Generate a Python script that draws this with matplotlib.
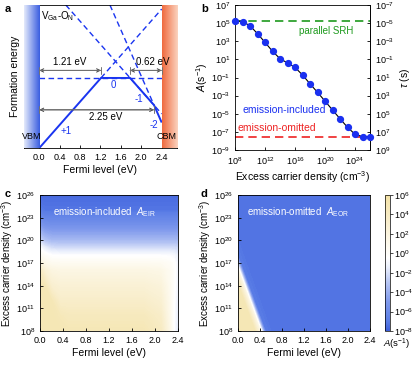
import numpy as np
import matplotlib
matplotlib.use("Agg")
import matplotlib.pyplot as plt
from matplotlib.colors import LinearSegmentedColormap, Normalize
from matplotlib.cm import ScalarMappable

plt.rcParams['font.family'] = ['Liberation Sans', 'DejaVu Sans']
plt.rcParams['mathtext.fontset'] = 'custom'
plt.rcParams['mathtext.rm'] = 'Liberation Sans'
plt.rcParams['mathtext.it'] = 'Liberation Sans:italic'
plt.rcParams['font.size'] = 6.5
plt.rcParams['axes.linewidth'] = 0.6
plt.rcParams['xtick.direction'] = 'in'
plt.rcParams['ytick.direction'] = 'in'
plt.rcParams['xtick.major.size'] = 2.5
plt.rcParams['ytick.major.size'] = 2.5
plt.rcParams['xtick.major.width'] = 0.6
plt.rcParams['ytick.major.width'] = 0.6

# ---- panel a: formation energy of V_Ga-O_N ----
fermi_ticks = [0.0, 0.4, 0.8, 1.2, 1.6, 2.0, 2.4]
kink_fermi = [0.0, 1.21, 1.78, 2.25, 2.4]
kink_energy = [0.0, 1.21, 1.21, 0.74, 0.44]
dash_p1_x, dash_p1_y = [1.21, 2.4], [1.21, 2.4]
dash_0_x, dash_0_y = [0.0, 2.4], [1.21, 1.21]
dash_m1_x, dash_m1_y = [0.52, 2.4], [2.47, 0.59]
dash_m2_x, dash_m2_y = [1.385, 2.25], [2.47, 0.74]
charge_labels = ['+1', '0', '-1', '-2']
charge_pos = [(0.52, 0.30), (1.46, 1.08), (1.95, 0.84), (2.24, 0.40)]

# ---- panel b: capture coefficient vs excess carrier density ----
density = [1e8, 1e9, 1e10, 1e11, 1e12, 1e13, 1e14, 1e15, 1e16, 1e17,
           1e18, 1e19, 1e20, 1e21, 1e22, 1e23, 1e24, 1e25, 1e26]
A_included = [1.9e5, 1.45e5, 5.2e4, 6.8e3, 7.6e2, 78, 12, 4.0, 1.3, 0.19,
              0.020, 2.3e-3, 2.5e-4, 2.6e-5, 2.8e-6, 3.2e-7, 5.4e-8, 3.0e-8, 3.0e-8]
A_srh = 1.9e5
A_omitted = 3.0e-8

# ---- panels c, d: log10 A maps (Fermi level x log10 density) ----
c_fermi = [0.0, 0.08, 0.2, 0.35, 0.5, 0.7, 1.2, 1.8, 2.1, 2.25, 2.33, 2.4]
c_logn = [8, 10, 12, 14, 16, 17, 18, 19, 20, 22, 24, 26]
c_logA = [
    [5.0, 5.0, 5.0, 5.0, 4.8, 4.8, 4.8, 4.8, 4.0, 1.5, -0.5, -1.8],
    [5.0, 5.0, 5.0, 4.6, 4.3, 4.3, 4.3, 4.3, 3.5, 1.2, -0.5, -1.6],
    [5.0, 5.0, 4.8, 3.4, 3.4, 3.4, 3.4, 3.4, 2.8, 1.0, -0.4, -1.5],
    [5.0, 4.8, 3.0, 2.6, 2.6, 2.6, 2.6, 2.6, 2.2, 0.8, -0.3, -1.3],
    [4.0, 2.6, 1.8, 1.6, 1.6, 1.6, 1.6, 1.6, 1.4, 0.6, -0.2, -1.2],
    [2.0, 1.2, 0.7, 0.6, 0.6, 0.6, 0.6, 0.6, 0.5, 0.2, -0.3, -1.2],
    [0.6, 0.0, -0.5, -0.6, -0.6, -0.6, -0.6, -0.6, -0.6, -0.7, -0.9, -1.5],
    [-0.6, -1.4, -2.1, -2.2, -2.2, -2.2, -2.2, -2.2, -2.2, -2.2, -2.2, -2.4],
    [-2.4, -3.2, -3.6, -3.6, -3.6, -3.6, -3.6, -3.6, -3.6, -3.6, -3.6, -3.7],
    [-5.0, -5.5, -5.6, -5.6, -5.6, -5.6, -5.6, -5.6, -5.6, -5.6, -5.6, -5.6],
    [-7.0, -7.2, -7.2, -7.2, -7.2, -7.2, -7.2, -7.2, -7.2, -7.2, -7.2, -7.2],
    [-7.6, -7.6, -7.6, -7.6, -7.6, -7.6, -7.6, -7.6, -7.6, -7.6, -7.6, -7.6],
]
d_fermi = [0.0, 0.1, 0.2, 0.3, 0.4, 0.5, 0.6, 2.4]
d_logn = [8, 10, 12, 14, 16, 18, 20, 26]
d_logA = [
    [5.0, 5.0, 5.0, 5.0, 1.5, -7.0, -7.2, -7.2],
    [5.0, 5.0, 5.0, 1.5, -7.0, -7.2, -7.2, -7.2],
    [5.0, 5.0, 1.5, -7.0, -7.2, -7.2, -7.2, -7.2],
    [5.0, 1.5, -7.0, -7.2, -7.2, -7.2, -7.2, -7.2],
    [1.5, -7.0, -7.2, -7.2, -7.2, -7.2, -7.2, -7.2],
    [-7.0, -7.2, -7.2, -7.2, -7.2, -7.2, -7.2, -7.2],
    [-7.2, -7.2, -7.2, -7.2, -7.2, -7.2, -7.2, -7.2],
    [-7.2, -7.2, -7.2, -7.2, -7.2, -7.2, -7.2, -7.2],
]
density_ticks = [8, 11, 14, 17, 20, 23, 26]
cbar_ticks = [-8, -6, -4, -2, 0, 2, 4, 6]

blue = '#1a35f0'
cmap = LinearSegmentedColormap.from_list('eir', [
    (0.0, '#3d5fdb'), (1/14, '#5a7de6'), (3/14, '#7f99ec'), (5/14, '#b7c6f4'),
    (6.5/14, '#e8edfb'), (7.5/14, '#ffffff'), (9/14, '#fdf9ec'),
    (11/14, '#f9efd0'), (1.0, '#f3e2a6')])

fig = plt.figure(figsize=(4.15, 3.68), dpi=100)

# ---------------- a ----------------
ax = fig.add_axes([0.0578, 0.5978, 0.3687, 0.3886])
grad = np.linspace(0, 1, 64).reshape(1, -1)
vbm_cmap = LinearSegmentedColormap.from_list('vbm', ['#e4eafb', '#3a5ee0'])
cbm_cmap = LinearSegmentedColormap.from_list('cbm', ['#ef6a3e', '#fbd3bf'])
ax.imshow(grad, extent=[-0.3, 0.0, 0, 2.47], aspect='auto', cmap=vbm_cmap, zorder=3)
ax.imshow(grad, extent=[2.4, 2.7, 0, 2.47], aspect='auto', cmap=cbm_cmap, zorder=3)
for xs, ys in [(dash_p1_x, dash_p1_y), (dash_0_x, dash_0_y),
               (dash_m1_x, dash_m1_y), (dash_m2_x, dash_m2_y)]:
    ax.plot(xs, ys, color=blue, lw=1.0, ls=(0, (4, 2.5)))
ax.plot(kink_fermi, kink_energy, color=blue, lw=1.4, solid_capstyle='butt')
for lab, (x, y) in zip(charge_labels, charge_pos):
    ax.text(x, y, lab, color=blue, fontsize=7, ha='center', va='center')

arr = dict(arrowstyle='<->', color='0.25', lw=0.7, shrinkA=0, shrinkB=0,
           mutation_scale=6)
bar = dict(arrowstyle='|-|', color='0.45', lw=0.7, shrinkA=0, shrinkB=0,
           mutation_scale=2.5)
ax.annotate('', xy=(1.21, 1.34), xytext=(0.0, 1.34), arrowprops=arr)
ax.annotate('', xy=(1.21, 1.34), xytext=(0.0, 1.34), arrowprops=bar)
ax.annotate('', xy=(2.4, 1.34), xytext=(1.78, 1.34), arrowprops=arr)
ax.annotate('', xy=(2.4, 1.34), xytext=(1.78, 1.34), arrowprops=bar)
ax.annotate('', xy=(2.25, 0.66), xytext=(0.0, 0.66), arrowprops=arr)
ax.annotate('', xy=(2.25, 0.66), xytext=(0.0, 0.66), arrowprops=bar)
ax.text(0.60, 1.49, '1.21 eV', fontsize=7, ha='center', va='center')
ax.text(2.22, 1.49, '0.62 eV', fontsize=7, ha='center', va='center', zorder=5)
ax.text(1.30, 0.53, '2.25 eV', fontsize=7, ha='center', va='center')
ax.text(-0.15, 0.2, 'VBM', fontsize=6.5, ha='center', va='center', zorder=5)
ax.text(2.50, 0.2, 'CBM', fontsize=6.5, ha='center', va='center', zorder=5)
ax.text(0.35, 2.28, 'V$_{\\rm Ga}$-O$_{\\rm N}$', fontsize=7, ha='center', va='center')
ax.set_xlim(-0.3, 2.7)
ax.set_ylim(0, 2.47)
ax.set_xticks(fermi_ticks)
ax.set_xticklabels([f'{v:.1f}' for v in fermi_ticks])
ax.set_yticks([])
ax.set_xlabel('Fermi level (eV)', fontsize=7.5, labelpad=2)
ax.set_ylabel('Formation energy', fontsize=7.5, labelpad=3)

# ---------------- b ----------------
bx = fig.add_axes([0.5663, 0.5924, 0.3253, 0.3940])
bx.axhline(A_srh, color='#1e9a1e', lw=1.2, ls=(0, (5, 3)))
bx.axhline(A_omitted, color='#ee2222', lw=1.2, ls=(0, (5, 3)))
bx.plot(density, A_included, color='black', lw=0.8, marker='o', ms=4.2,
        mfc='#1a30f0', mec='#1a30f0', clip_on=False, zorder=4)
bx.set_xscale('log')
bx.set_yscale('log')
bx.set_xlim(1e8, 1e26)
bx.set_ylim(1e-9, 1e7)
bx.set_xticks([1e8, 1e12, 1e16, 1e20, 1e24])
bx.set_yticks([10.0 ** k for k in range(-9, 8, 2)])
bx.minorticks_off()
bx.text(3e16, 1.2e4, 'parallel SRH', color='#1e9a1e', fontsize=7, va='center')
bx.text(1e9, 2.6e-5, 'emission-included', color='#1a30f0', fontsize=7.5, va='center')
bx.text(2e8, 2.5e-7, 'emission-omitted', color='#ee2222', fontsize=7.5, va='center')
bx.set_xlabel('Excess carrier density (cm$^{-3}$)', fontsize=7.5, labelpad=2)
bx.set_ylabel('$A$(s$^{-1}$)', fontsize=7.5, labelpad=1)
sec = bx.secondary_yaxis('right', functions=(lambda a: 1 / a, lambda t: 1 / t))
sec.set_yticks([10.0 ** k for k in range(-7, 10, 2)])
sec.minorticks_off()
sec.set_ylabel('$\\tau$ (s)', fontsize=7.5, labelpad=3)

# ---------------- c, d ----------------
levels = np.linspace(-8, 6, 141)


def density_axes(axh):
    axh.set_xlim(0, 2.4)
    axh.set_ylim(8, 26)
    axh.set_xticks(fermi_ticks)
    axh.set_xticklabels([f'{v:.1f}' for v in fermi_ticks])
    axh.set_yticks(density_ticks)
    axh.set_yticklabels([f'$10^{{{k}}}$' for k in density_ticks])
    axh.set_xlabel('Fermi level (eV)', fontsize=7.5, labelpad=2)
    axh.set_ylabel('Excess carrier density (cm$^{-3}$)', fontsize=7, labelpad=1)
    axh.tick_params(top=False, right=False)


cx = fig.add_axes([0.0964, 0.1005, 0.3325, 0.3696])
cx.contourf(c_fermi, c_logn, np.array(c_logA), levels=levels, cmap=cmap,
            extend='both', antialiased=False)
density_axes(cx)
cx.text(0.22, 23.8, 'emission-included  $A_{\\rm EIR}$', color='white',
        fontsize=7, va='center')

dx = fig.add_axes([0.5735, 0.1005, 0.3181, 0.3696])
dx.contourf(d_fermi, d_logn, np.array(d_logA), levels=levels, cmap=cmap,
            extend='both', antialiased=False)
density_axes(dx)
dx.text(0.16, 23.8, 'emission-omitted  $A_{\\rm EOR}$', color='white',
        fontsize=7, va='center')

cax = fig.add_axes([0.9277, 0.1005, 0.012, 0.3696])
cb = fig.colorbar(ScalarMappable(norm=Normalize(-8, 6), cmap=cmap), cax=cax)
cb.set_ticks(cbar_ticks)
cb.set_ticklabels([f'$10^{{{k}}}$' for k in cbar_ticks])
cb.outline.set_linewidth(0.5)
cax.tick_params(direction='out', length=2, width=0.5, labelsize=6.5, pad=1)
cax.text(-0.4, -0.045, '$A$(s$^{-1}$)', transform=cax.transAxes, fontsize=6.8,
         ha='left', va='top')

for lab, x, y in [('a', 0.012, 0.99), ('b', 0.484, 0.99),
                  ('c', 0.012, 0.487), ('d', 0.484, 0.487)]:
    fig.text(x, y, lab, fontsize=8, fontweight='bold', va='top')

fig.savefig('out.png', dpi=100)
